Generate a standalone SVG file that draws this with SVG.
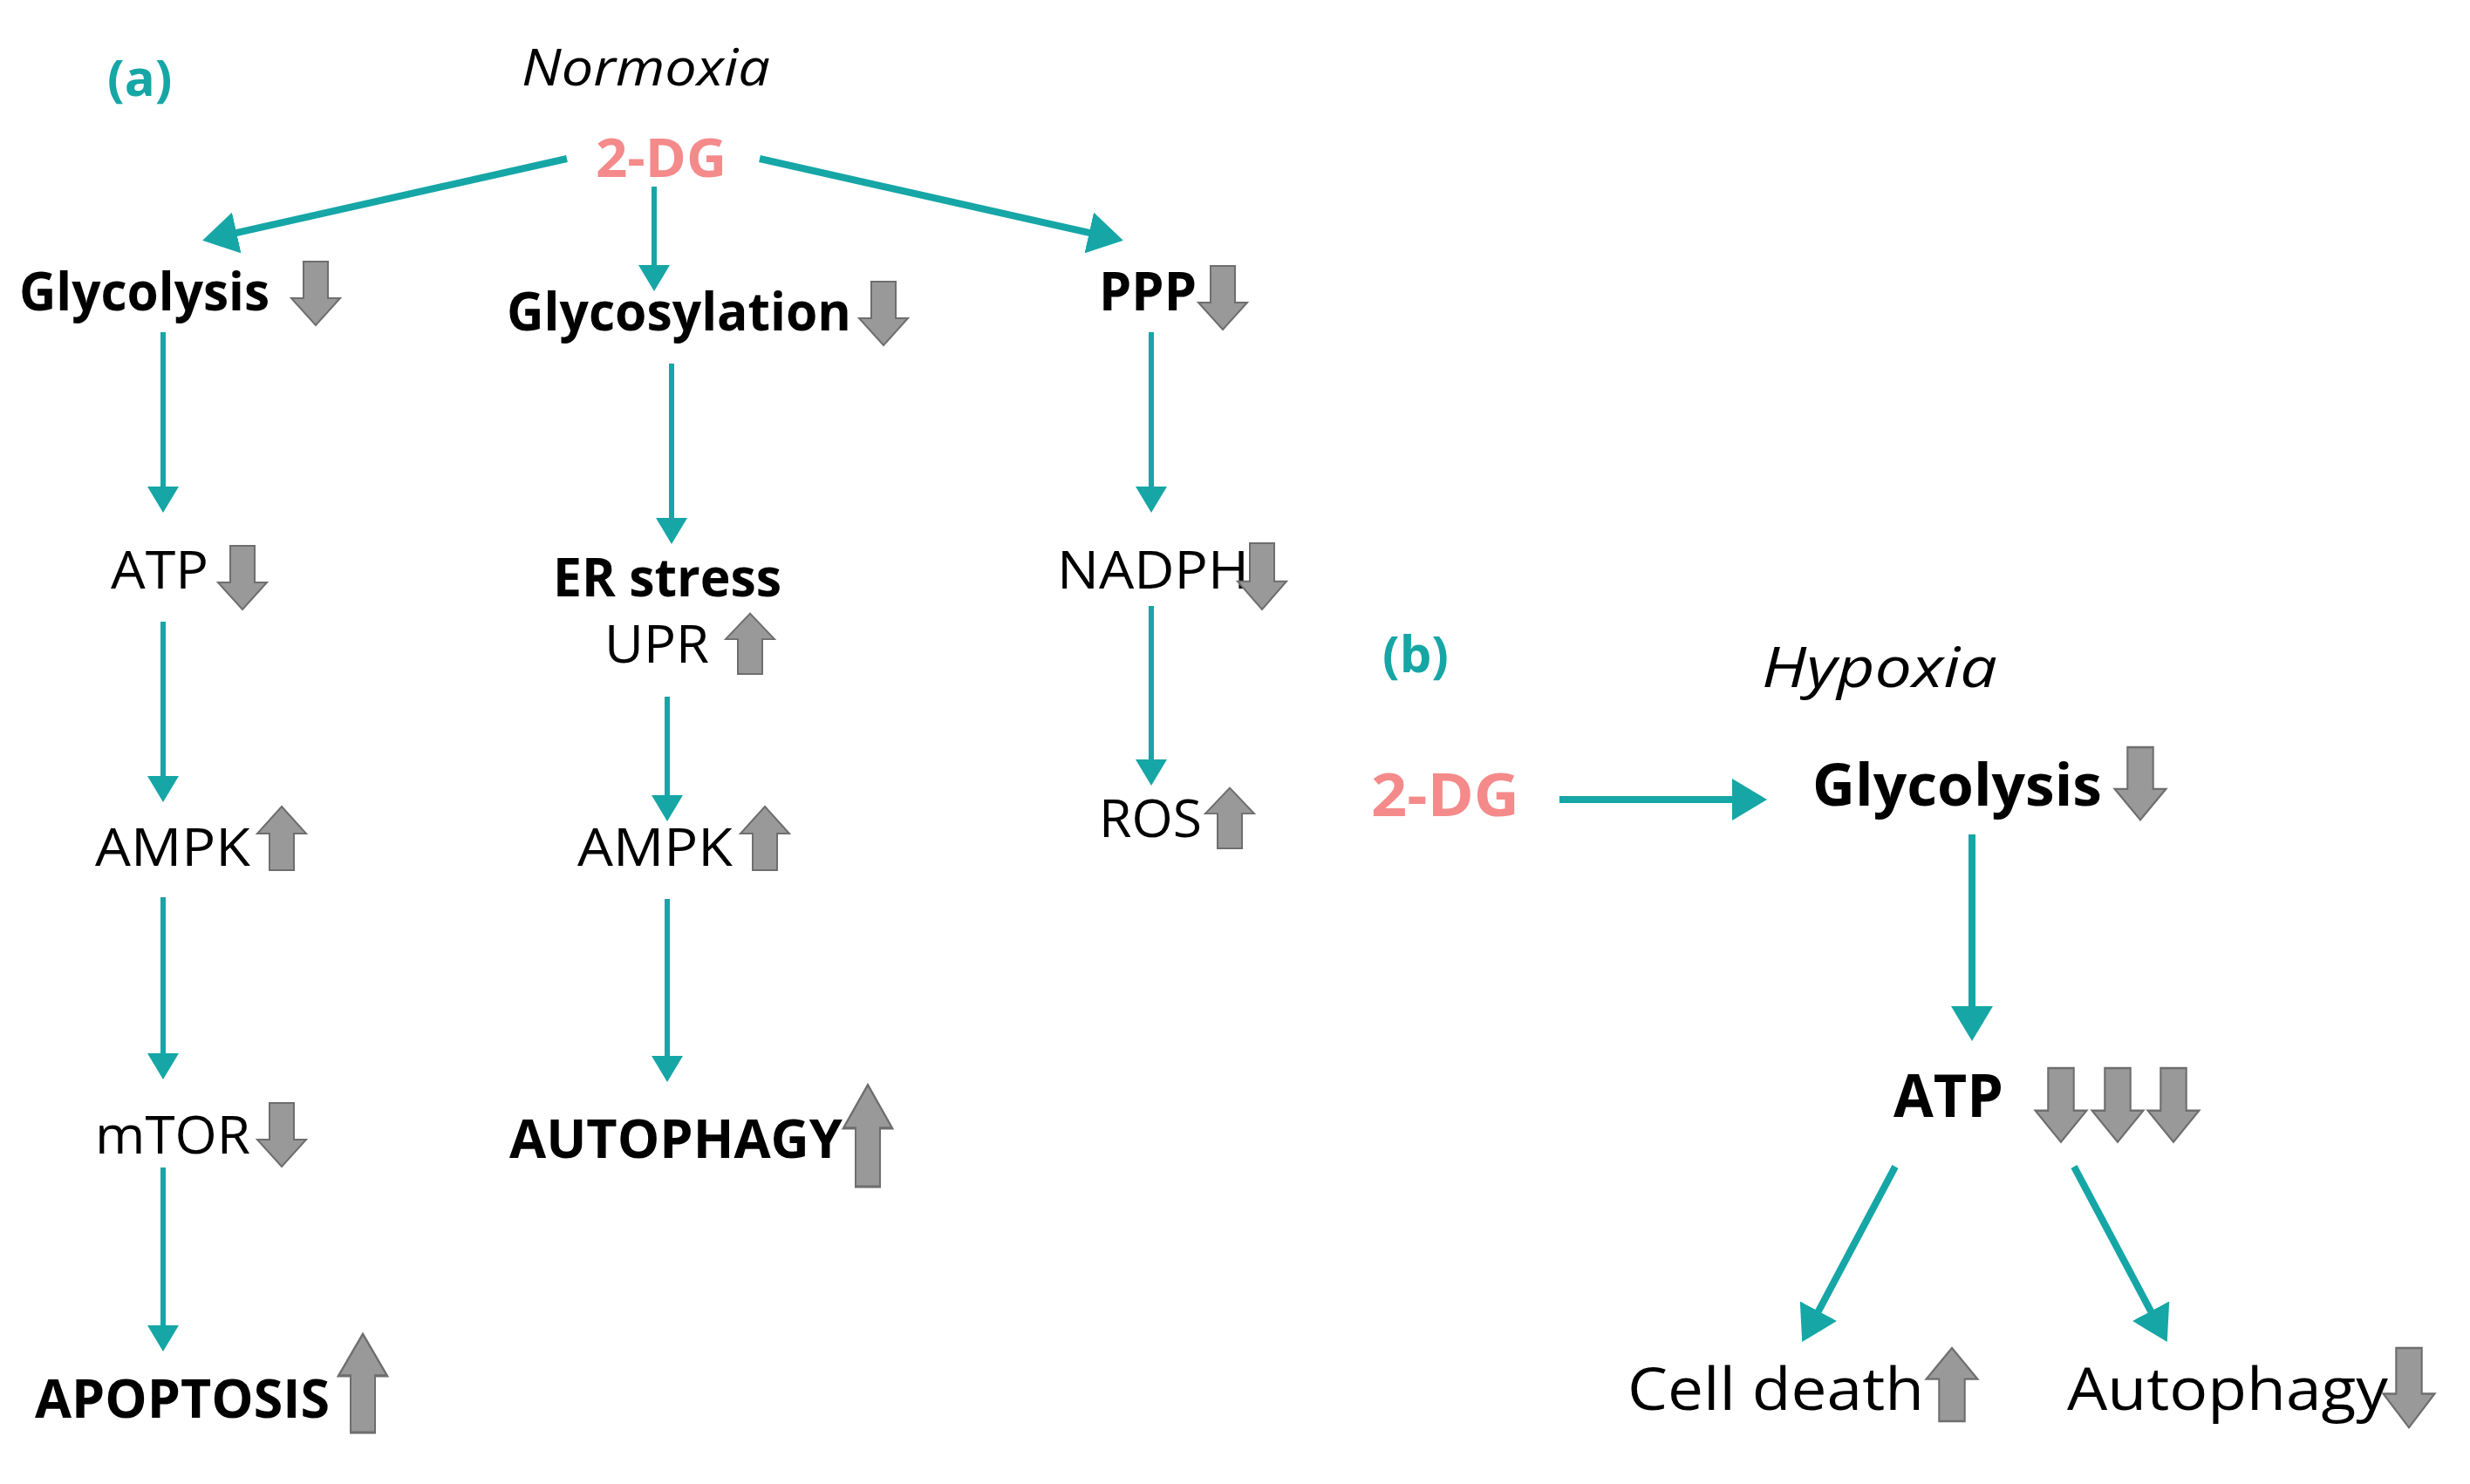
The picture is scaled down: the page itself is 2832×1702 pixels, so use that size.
<svg xmlns="http://www.w3.org/2000/svg" width="2832" height="1702" viewBox="0 0 2832 1702">
<style>
text{font-family:"Open Sans","Liberation Sans",sans-serif;fill:#000}
.b{font-weight:bold}
.c{stroke:#16a6a6;stroke-width:6;fill:none;marker-end:url(#ah)}
.t{stroke-width:8}
.g{fill:#999;stroke:#6e6e6e;stroke-width:2}
</style>
<defs>
<marker id="ah" markerWidth="6" markerHeight="6" refX="4" refY="3" orient="auto" markerUnits="strokeWidth"><path d="M0,0 L5,3 L0,6 Z" fill="#16a6a6"/></marker>
<path id="dn" class="g" d="M-14,0 H14 V42 H28 L0,73 L-28,42 H-14 Z"/>
</defs>
<g id="connectors">
<line class="c t" x1="650" y1="182" x2="240" y2="274"/>
<line class="c" x1="750" y1="214" x2="750" y2="328"/>
<line class="c t" x1="871" y1="182" x2="1280" y2="274"/>
<line class="c" x1="187" y1="381" x2="187" y2="582"/>
<line class="c" x1="187" y1="713" x2="187" y2="914"/>
<line class="c" x1="187" y1="1029" x2="187" y2="1232"/>
<line class="c" x1="187" y1="1339" x2="187" y2="1544"/>
<line class="c" x1="770" y1="417" x2="770" y2="618"/>
<line class="c" x1="765" y1="799" x2="765" y2="936"/>
<line class="c" x1="765" y1="1031" x2="765" y2="1235"/>
<line class="c" x1="1320" y1="381" x2="1320" y2="582"/>
<line class="c" x1="1320" y1="695" x2="1320" y2="895"/>
<line class="c t" x1="1788" y1="917" x2="2018" y2="917"/>
<line class="c t" x1="2261" y1="957" x2="2261" y2="1186"/>
<line class="c t" x1="2173" y1="1338" x2="2070" y2="1532"/>
<line class="c t" x1="2378" y1="1338" x2="2481" y2="1532"/>
</g>
<g id="labels">
<text x="123" y="110" font-size="58" class="b" style="fill:#16a6a6">(a)</text>
<text x="598" y="98" font-size="58" font-style="italic" textLength="285" lengthAdjust="spacingAndGlyphs">Normoxia</text>
<text x="1585" y="771" font-size="58" class="b" style="fill:#16a6a6">(b)</text>
<text x="2020" y="788" font-size="64" font-style="italic" textLength="270" lengthAdjust="spacingAndGlyphs">Hypoxia</text>
</g>
<g id="n-2dg-a"><text x="683" y="203" font-size="60" class="b" textLength="150" lengthAdjust="spacingAndGlyphs" style="fill:#f48a8a">2-DG</text></g>
<g id="n-glycolysis"><text x="22" y="356" font-size="60" class="b" textLength="287" lengthAdjust="spacingAndGlyphs">Glycolysis</text><use href="#dn" transform="translate(362,300)"/></g>
<g id="n-glycosylation"><text x="581" y="379" font-size="60" class="b" textLength="395" lengthAdjust="spacingAndGlyphs">Glycosylation</text><use href="#dn" transform="translate(1013,323)"/></g>
<g id="n-ppp"><text x="1260" y="356" font-size="60" class="b" textLength="112" lengthAdjust="spacingAndGlyphs">PPP</text><use href="#dn" transform="translate(1402,305)"/></g>
<g id="n-atp"><text x="127" y="675" font-size="60" textLength="112" lengthAdjust="spacingAndGlyphs">ATP</text><use href="#dn" transform="translate(278,626)"/></g>
<g id="n-er"><text x="634" y="684" font-size="60" class="b" textLength="262" lengthAdjust="spacingAndGlyphs">ER stress</text><text x="693" y="760" font-size="60" textLength="120" lengthAdjust="spacingAndGlyphs">UPR</text><use href="#dn" transform="translate(860,773) scale(1,-0.95)"/></g>
<g id="n-nadph"><text x="1212" y="675" font-size="60" textLength="220" lengthAdjust="spacingAndGlyphs">NADPH</text><use href="#dn" transform="translate(1447,623) scale(1,1.04)"/></g>
<g id="n-ampk1"><text x="109" y="993" font-size="60" textLength="178" lengthAdjust="spacingAndGlyphs">AMPK</text><use href="#dn" transform="translate(323,998) scale(1,-1)"/></g>
<g id="n-ampk2"><text x="662" y="993" font-size="60" textLength="178" lengthAdjust="spacingAndGlyphs">AMPK</text><use href="#dn" transform="translate(877,998) scale(1,-1)"/></g>
<g id="n-ros"><text x="1260" y="960" font-size="60" textLength="118" lengthAdjust="spacingAndGlyphs">ROS</text><use href="#dn" transform="translate(1410,973) scale(1,-0.95)"/></g>
<g id="n-mtor"><text x="109" y="1323" font-size="60" textLength="178" lengthAdjust="spacingAndGlyphs">mTOR</text><use href="#dn" transform="translate(323,1265)"/></g>
<g id="n-apoptosis"><text x="40" y="1626" font-size="60" class="b" textLength="338" lengthAdjust="spacingAndGlyphs">APOPTOSIS</text><use href="#dn" transform="translate(416,1643) scale(1,-1.55)"/></g>
<g id="n-autophagy-a"><text x="584" y="1328" font-size="60" class="b" textLength="382" lengthAdjust="spacingAndGlyphs">AUTOPHAGY</text><use href="#dn" transform="translate(995,1361) scale(1,-1.6)"/></g>
<g id="n-2dg-b"><text x="1572" y="936" font-size="68" class="b" textLength="170" lengthAdjust="spacingAndGlyphs" style="fill:#f48a8a">2-DG</text></g>
<g id="n-glycolysis-b"><text x="2078" y="924" font-size="66" class="b" textLength="332" lengthAdjust="spacingAndGlyphs">Glycolysis</text><use href="#dn" transform="translate(2454,857) scale(1.05,1.14)"/></g>
<g id="n-atp-b"><text x="2171" y="1281" font-size="68" class="b" textLength="126" lengthAdjust="spacingAndGlyphs">ATP</text><use href="#dn" transform="translate(2363,1225) scale(1.05,1.16)"/><use href="#dn" transform="translate(2428,1225) scale(1.05,1.16)"/><use href="#dn" transform="translate(2492,1225) scale(1.05,1.16)"/></g>
<g id="n-celldeath"><text x="1866" y="1617" font-size="68" textLength="340" lengthAdjust="spacingAndGlyphs">Cell death</text><use href="#dn" transform="translate(2238,1630) scale(1.05,-1.15)"/></g>
<g id="n-autophagy-b"><text x="2370" y="1617" font-size="68" textLength="368" lengthAdjust="spacingAndGlyphs">Autophagy</text><use href="#dn" transform="translate(2762,1546) scale(1.05,1.25)"/></g>
</svg>
